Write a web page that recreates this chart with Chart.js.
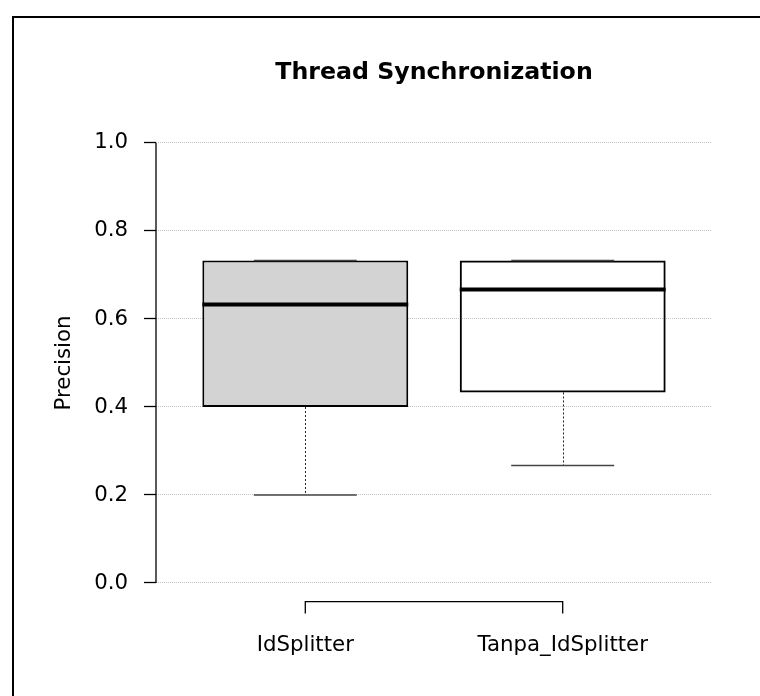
<!DOCTYPE html>
<html>
<head>
<meta charset="utf-8">
<script src="https://cdn.jsdelivr.net/npm/chart.js@4/dist/chart.umd.min.js"></script>
<style>
  html, body { margin: 0; padding: 0; background: #fff; }
  #wrap { position: relative; width: 760px; height: 696px; }
</style>
</head>
<body>
<div id="wrap"><canvas id="chart" width="760" height="696"></canvas></div>
<script>
const categories = ["IdSplitter", "Tanpa_IdSplitter"];
const whiskerLow = [0.2, 0.267];
const lowerQuartile = [0.4, 0.433];
const medians = [0.633, 0.667];
const upperQuartile = [0.733, 0.733];
const whiskerHigh = [0.733, 0.733];
const boxFills = ["#d3d3d3", "rgba(0,0,0,0)"];
const yTicks = [0, 0.2, 0.4, 0.6, 0.8, 1.0];

const FONT = "'DejaVu Sans', sans-serif";
const LABEL_SIZE = 21.3;

// whiskers, caps, medians and the R-style axis lines
const boxplotExtras = {
  id: "boxplotExtras",
  afterDatasetsDraw(chart) {
    const { ctx, scales: { x, y }, chartArea } = chart;
    ctx.save();
    categories.forEach((name, i) => {
      const pos = i + 1;
      const cx = Math.round(x.getPixelForValue(pos)) + 0.5;

      ctx.strokeStyle = "#222";
      ctx.lineWidth = 1;
      ctx.setLineDash([2, 2]);
      ctx.beginPath();
      ctx.moveTo(cx, y.getPixelForValue(lowerQuartile[i]));
      ctx.lineTo(cx, y.getPixelForValue(whiskerLow[i]));
      ctx.moveTo(cx, y.getPixelForValue(upperQuartile[i]));
      ctx.lineTo(cx, y.getPixelForValue(whiskerHigh[i]));
      ctx.stroke();
      ctx.setLineDash([]);

      ctx.strokeStyle = "#444";
      ctx.lineWidth = 1.6;
      [whiskerLow[i], whiskerHigh[i]].forEach((v) => {
        const py = y.getPixelForValue(v);
        ctx.beginPath();
        ctx.moveTo(x.getPixelForValue(pos - 0.2), py);
        ctx.lineTo(x.getPixelForValue(pos + 0.2), py);
        ctx.stroke();
      });

      ctx.strokeStyle = "#000";
      ctx.lineWidth = 4;
      const my = y.getPixelForValue(medians[i]);
      ctx.beginPath();
      ctx.moveTo(x.getPixelForValue(pos - 0.4), my);
      ctx.lineTo(x.getPixelForValue(pos + 0.4), my);
      ctx.stroke();
    });

    ctx.strokeStyle = "#000";
    ctx.lineWidth = 1.3;
    ctx.beginPath();
    ctx.moveTo(chartArea.left, y.getPixelForValue(yTicks[0]));
    ctx.lineTo(chartArea.left, y.getPixelForValue(yTicks[yTicks.length - 1]));
    ctx.stroke();

    const by = chartArea.bottom + 1;
    const x1 = x.getPixelForValue(1);
    const x2 = x.getPixelForValue(categories.length);
    ctx.beginPath();
    ctx.moveTo(x1, by + 12);
    ctx.lineTo(x1, by);
    ctx.lineTo(x2, by);
    ctx.lineTo(x2, by + 12);
    ctx.stroke();

    // figure frame
    ctx.lineWidth = 2;
    ctx.beginPath();
    ctx.moveTo(13, 800);
    ctx.lineTo(13, 17);
    ctx.lineTo(800, 17);
    ctx.stroke();
    ctx.restore();
  },
};

new Chart(document.getElementById("chart"), {
  type: "bar",
  data: {
    datasets: [
      {
        data: categories.map((name, i) => ({
          x: i + 1,
          y: [lowerQuartile[i], upperQuartile[i]],
        })),
        backgroundColor: boxFills,
        borderColor: "#000",
        borderWidth: 2,
        borderSkipped: false,
        categoryPercentage: 0.8,
        barPercentage: 1,
      },
    ],
  },
  options: {
    responsive: false,
    animation: false,
    layout: { padding: { left: 0, right: 48, top: 0, bottom: 0 } },
    plugins: {
      legend: { display: false },
      tooltip: { enabled: false },
      title: {
        display: true,
        text: "Thread Synchronization",
        fullSize: false,
        color: "#000",
        font: { family: FONT, size: 23.7, weight: "bold" },
        padding: { top: 59, bottom: 37.9 },
      },
    },
    scales: {
      x: {
        type: "linear",
        offset: false,
        min: 0.42,
        max: 2.58,
        afterFit: (scale) => {
          scale.height = 95.4;
        },
        afterBuildTicks: (scale) => {
          scale.ticks = categories.map((name, i) => ({ value: i + 1 }));
        },
        border: { display: false },
        grid: { display: false, drawTicks: false, offset: false },
        ticks: {
          color: "#000",
          padding: 32,
          font: { family: FONT, size: LABEL_SIZE },
          callback: (value) => categories[value - 1],
        },
      },
      y: {
        min: -0.04,
        max: 1.04,
        afterFit: (scale) => {
          scale.width = 156;
        },
        afterBuildTicks: (scale) => {
          scale.ticks = yTicks.map((v) => ({ value: v }));
        },
        border: { display: false, dash: [1, 1] },
        grid: {
          color: "#c4c4c4",
          tickColor: "#000",
          tickBorderDash: [],
          tickLength: 12,
          tickWidth: 1.3,
        },
        ticks: {
          color: "#000",
          padding: 16,
          font: { family: FONT, size: LABEL_SIZE },
          callback: (value) => value.toFixed(1),
        },
        title: {
          display: true,
          text: "Precision",
          color: "#000",
          font: { family: FONT, size: LABEL_SIZE },
          padding: { top: 52, bottom: 0 },
        },
      },
    },
  },
  plugins: [boxplotExtras],
});
</script>
</body>
</html>
